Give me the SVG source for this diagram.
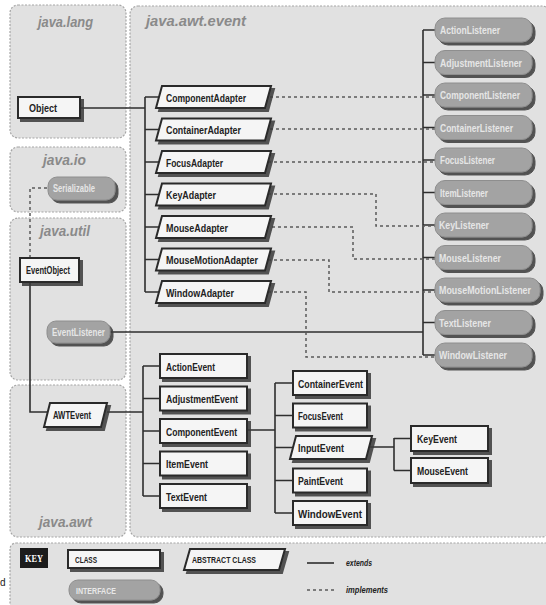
<svg xmlns="http://www.w3.org/2000/svg" width="546" height="605" viewBox="0 0 546 605">
<defs>
<filter id="sh" x="-10%" y="-20%" width="130%" height="160%"><feDropShadow dx="3" dy="3" stdDeviation="0.7" flood-color="#3a3a3a" flood-opacity="0.85"/></filter>
<style>
.pkg{fill:#e1e1e1;stroke:#a6a6a6;stroke-width:1.2;stroke-dasharray:2 1.5}
.plbl{font-family:"Liberation Sans",Arial,sans-serif;font-weight:bold;font-style:italic;font-size:15px;fill:#8a8a8a}
.cls{fill:#f5f5f5;stroke:#2a2a2a;stroke-width:2;filter:url(#sh)}
.ifc{fill:#a3a3a3;stroke:#8e8e8e;stroke-width:1;filter:url(#sh)}
.ct{font-family:"Liberation Sans",Arial,sans-serif;font-weight:bold;font-size:11.5px;fill:#222}
.it{font-family:"Liberation Sans",Arial,sans-serif;font-weight:bold;font-size:10.5px;fill:#e6e6e6}
.ext{fill:none;stroke:#2e2e2e;stroke-width:1.6}
.imp{fill:none;stroke:#5a5a5a;stroke-width:1.5;stroke-dasharray:3 3}
.kt{font-family:"Liberation Sans",Arial,sans-serif;font-weight:bold;font-size:9px;fill:#222}
.ki{font-family:"Liberation Sans",Arial,sans-serif;font-weight:bold;font-style:italic;font-size:9.5px;fill:#222}
</style>
</defs>
<rect width="546" height="605" fill="#ffffff"/>
<g id="packages">
<rect class="pkg" x="10" y="5" width="116" height="133" rx="8"/>
<rect class="pkg" x="10" y="147" width="116" height="65" rx="8"/>
<rect class="pkg" x="10" y="218" width="116" height="162" rx="8"/>
<rect class="pkg" x="10" y="385" width="116" height="152" rx="8"/>
<rect class="pkg" x="130" y="6" width="420" height="531" rx="8"/>
<rect class="pkg" x="10" y="543" width="545" height="70" rx="6"/>
<text class="plbl" x="38" y="27" textLength="55" lengthAdjust="spacingAndGlyphs">java.lang</text>
<text class="plbl" x="146" y="26" textLength="100" lengthAdjust="spacingAndGlyphs">java.awt.event</text>
<text class="plbl" x="43" y="165" textLength="43" lengthAdjust="spacingAndGlyphs">java.io</text>
<text class="plbl" x="40" y="236" textLength="50" lengthAdjust="spacingAndGlyphs">java.util</text>
<text class="plbl" x="39" y="527" textLength="53" lengthAdjust="spacingAndGlyphs">java.awt</text>
</g>
<g id="connectors">
<path class="ext" d="M80,108 H145 M145,97 V292 M145,97 H159 M145,129.5 H159 M145,162 H159 M145,194.5 H159 M145,227 H159 M145,259.5 H159 M145,292 H159"/>
<path class="ext" d="M423,30 V355 M423,30 H435 M423,62.5 H435 M423,95 H435 M423,127.5 H435 M423,160 H435 M423,192.5 H435 M423,225 H435 M423,257.5 H435 M423,290 H435 M423,322.5 H435 M423,355 H435"/>
<path class="ext" d="M110,332 H423"/>
<path class="imp" d="M270,97 H435"/>
<path class="imp" d="M270,129 H435"/>
<path class="imp" d="M268,162 H435"/>
<path class="imp" d="M268,194 H376 V226 H435"/>
<path class="imp" d="M266,227 H353 V259 H435"/>
<path class="imp" d="M268,260 H329 V292 H435"/>
<path class="imp" d="M268,292 H306 V357 H435"/>
<path class="imp" d="M30,258 V188 H48"/>
<path class="ext" d="M30,282 V412 H47"/>
<path class="ext" d="M107,412 H143 M143,366 V496 M143,366 H160 M143,398.5 H160 M143,431 H160 M143,463.5 H160 M143,496 H160"/>
<path class="ext" d="M247,430 H275 M275,383 V513 M275,383 H293 M275,415.5 H293 M275,447.5 H293 M275,480.5 H293 M275,513 H293"/>
<path class="ext" d="M369,447 H394 M394,438 V470.5 M394,438.5 H411 M394,470.5 H411"/>
</g>
<g id="Object"><rect class="cls" x="18" y="97" width="62" height="21"/><text class="ct" x="29" y="112" font-size="12" textLength="28" lengthAdjust="spacingAndGlyphs">Object</text></g>
<g id="Serializable"><rect class="ifc" x="48" y="177" width="67" height="23" rx="9"/><text class="it" x="53" y="192" textLength="42" lengthAdjust="spacingAndGlyphs">Serializable</text></g>
<g id="EventObject"><rect class="cls" x="20" y="258" width="59" height="24"/><text class="ct" x="26" y="274" font-size="10.5" textLength="44" lengthAdjust="spacingAndGlyphs">EventObject</text></g>
<g id="EventListener"><rect class="ifc" x="47" y="321" width="63" height="22" rx="9"/><text class="it" x="52" y="336" textLength="53" lengthAdjust="spacingAndGlyphs">EventListener</text></g>
<g id="AWTEvent"><polygon class="cls" points="50,403 107,403 101,427 44,427"/><text class="ct" x="53" y="419" font-size="10.5" textLength="38" lengthAdjust="spacingAndGlyphs">AWTEvent</text></g>
<g id="ComponentAdapter"><polygon class="cls" points="162,86 271,86 265,108 156,108"/><text class="ct" x="166" y="101.5" textLength="80" lengthAdjust="spacingAndGlyphs">ComponentAdapter</text></g>
<g id="ContainerAdapter"><polygon class="cls" points="162,118.5 271,118.5 265,140.5 156,140.5"/><text class="ct" x="166" y="134" textLength="75" lengthAdjust="spacingAndGlyphs">ContainerAdapter</text></g>
<g id="FocusAdapter"><polygon class="cls" points="162,151 271,151 265,173 156,173"/><text class="ct" x="166" y="166.5" textLength="57" lengthAdjust="spacingAndGlyphs">FocusAdapter</text></g>
<g id="KeyAdapter"><polygon class="cls" points="162,183.5 271,183.5 265,205.5 156,205.5"/><text class="ct" x="166" y="199" textLength="50" lengthAdjust="spacingAndGlyphs">KeyAdapter</text></g>
<g id="MouseAdapter"><polygon class="cls" points="162,216 271,216 265,238 156,238"/><text class="ct" x="166" y="231.5" textLength="62" lengthAdjust="spacingAndGlyphs">MouseAdapter</text></g>
<g id="MouseMotionAdapter"><polygon class="cls" points="162,248.5 271,248.5 265,270.5 156,270.5"/><text class="ct" x="166" y="264" textLength="92" lengthAdjust="spacingAndGlyphs">MouseMotionAdapter</text></g>
<g id="WindowAdapter"><polygon class="cls" points="162,281 271,281 265,303 156,303"/><text class="ct" x="166" y="296.5" textLength="68" lengthAdjust="spacingAndGlyphs">WindowAdapter</text></g>
<g id="ActionListener"><rect class="ifc" x="435" y="18" width="97" height="24" rx="10"/><text class="it" x="440" y="34" textLength="60" lengthAdjust="spacingAndGlyphs">ActionListener</text></g>
<g id="AdjustmentListener"><rect class="ifc" x="435" y="50.5" width="97" height="24" rx="10"/><text class="it" x="440" y="66.5" textLength="82" lengthAdjust="spacingAndGlyphs">AdjustmentListener</text></g>
<g id="ComponentListener"><rect class="ifc" x="435" y="83" width="97" height="24" rx="10"/><text class="it" x="440" y="99" textLength="80" lengthAdjust="spacingAndGlyphs">ComponentListener</text></g>
<g id="ContainerListener"><rect class="ifc" x="435" y="115.5" width="97" height="24" rx="10"/><text class="it" x="440" y="131.5" textLength="73" lengthAdjust="spacingAndGlyphs">ContainerListener</text></g>
<g id="FocusListener"><rect class="ifc" x="435" y="148" width="97" height="24" rx="10"/><text class="it" x="440" y="164" textLength="55" lengthAdjust="spacingAndGlyphs">FocusListener</text></g>
<g id="ItemListener"><rect class="ifc" x="435" y="180.5" width="97" height="24" rx="10"/><text class="it" x="440" y="196.5" textLength="48" lengthAdjust="spacingAndGlyphs">ItemListener</text></g>
<g id="KeyListener"><rect class="ifc" x="435" y="213" width="97" height="24" rx="10"/><text class="it" x="439" y="229" textLength="50" lengthAdjust="spacingAndGlyphs">KeyListener</text></g>
<g id="MouseListener"><rect class="ifc" x="435" y="245.5" width="97" height="24" rx="10"/><text class="it" x="439" y="261.5" textLength="62" lengthAdjust="spacingAndGlyphs">MouseListener</text></g>
<g id="MouseMotionListener"><rect class="ifc" x="435" y="278" width="105" height="24" rx="10"/><text class="it" x="439" y="294" textLength="92" lengthAdjust="spacingAndGlyphs">MouseMotionListener</text></g>
<g id="TextListener"><rect class="ifc" x="435" y="310.5" width="97" height="24" rx="10"/><text class="it" x="439" y="326.5" textLength="52" lengthAdjust="spacingAndGlyphs">TextListener</text></g>
<g id="WindowListener"><rect class="ifc" x="435" y="343" width="97" height="24" rx="10"/><text class="it" x="439" y="359" textLength="68" lengthAdjust="spacingAndGlyphs">WindowListener</text></g>
<g id="ActionEvent"><rect class="cls" x="160" y="354" width="87" height="24"/><text class="ct" x="166" y="370.5" textLength="49" lengthAdjust="spacingAndGlyphs">ActionEvent</text></g>
<g id="AdjustmentEvent"><rect class="cls" x="160" y="386.5" width="87" height="24"/><text class="ct" x="166" y="403" textLength="72" lengthAdjust="spacingAndGlyphs">AdjustmentEvent</text></g>
<g id="ComponentEvent"><rect class="cls" x="160" y="419" width="87" height="24"/><text class="ct" x="166" y="435.5" textLength="71" lengthAdjust="spacingAndGlyphs">ComponentEvent</text></g>
<g id="ItemEvent"><rect class="cls" x="160" y="451.5" width="87" height="24"/><text class="ct" x="166" y="468" textLength="42" lengthAdjust="spacingAndGlyphs">ItemEvent</text></g>
<g id="TextEvent"><rect class="cls" x="160" y="484" width="87" height="24"/><text class="ct" x="166" y="500.5" textLength="41" lengthAdjust="spacingAndGlyphs">TextEvent</text></g>
<g id="ContainerEvent"><rect class="cls" x="293" y="371" width="74" height="24"/><text class="ct" x="298" y="387.5" textLength="65" lengthAdjust="spacingAndGlyphs">ContainerEvent</text></g>
<g id="FocusEvent"><rect class="cls" x="293" y="403.5" width="74" height="24"/><text class="ct" x="298" y="420" textLength="45" lengthAdjust="spacingAndGlyphs">FocusEvent</text></g>
<g id="InputEvent"><polygon class="cls" points="296,436 372,436 366,459 290,459"/><text class="ct" x="298" y="452" textLength="46" lengthAdjust="spacingAndGlyphs">InputEvent</text></g>
<g id="PaintEvent"><rect class="cls" x="293" y="468.5" width="74" height="24"/><text class="ct" x="298" y="485" textLength="45" lengthAdjust="spacingAndGlyphs">PaintEvent</text></g>
<g id="WindowEvent"><rect class="cls" x="293" y="501" width="74" height="24"/><text class="ct" x="298" y="517.5" textLength="64" lengthAdjust="spacingAndGlyphs">WindowEvent</text></g>
<g id="KeyEvent"><rect class="cls" x="411" y="426" width="77" height="25"/><text class="ct" x="417" y="443" textLength="40" lengthAdjust="spacingAndGlyphs">KeyEvent</text></g>
<g id="MouseEvent"><rect class="cls" x="411" y="458" width="77" height="25"/><text class="ct" x="417" y="475" textLength="51" lengthAdjust="spacingAndGlyphs">MouseEvent</text></g>
<g id="key">
<rect x="20" y="548" width="28" height="20" fill="#1c1c1c"/>
<text x="25" y="562" font-family="Liberation Serif,serif" font-weight="bold" font-size="10" fill="#fff" textLength="18" lengthAdjust="spacingAndGlyphs">KEY</text>
<rect class="cls" x="68" y="550" width="92" height="18"/>
<text class="kt" x="75" y="563" textLength="22" lengthAdjust="spacingAndGlyphs">CLASS</text>
<polygon class="cls" points="190,549 285,549 279,570 184,570"/>
<text class="kt" x="192" y="563" textLength="64" lengthAdjust="spacingAndGlyphs">ABSTRACT CLASS</text>
<rect class="ifc" x="69" y="580" width="91" height="20" rx="9"/>
<text class="kt" x="76" y="594" style="fill:#e8e8e8" textLength="40" lengthAdjust="spacingAndGlyphs">INTERFACE</text>
<path class="ext" d="M307,563 H334"/>
<text class="ki" x="346" y="566" textLength="26" lengthAdjust="spacingAndGlyphs">extends</text>
<path class="imp" d="M307,590 H336"/>
<text class="ki" x="346" y="593" textLength="42" lengthAdjust="spacingAndGlyphs">implements</text>
</g>
<text x="0" y="586" font-family="Liberation Sans,Arial,sans-serif" font-size="10" fill="#222">d</text>
</svg>
